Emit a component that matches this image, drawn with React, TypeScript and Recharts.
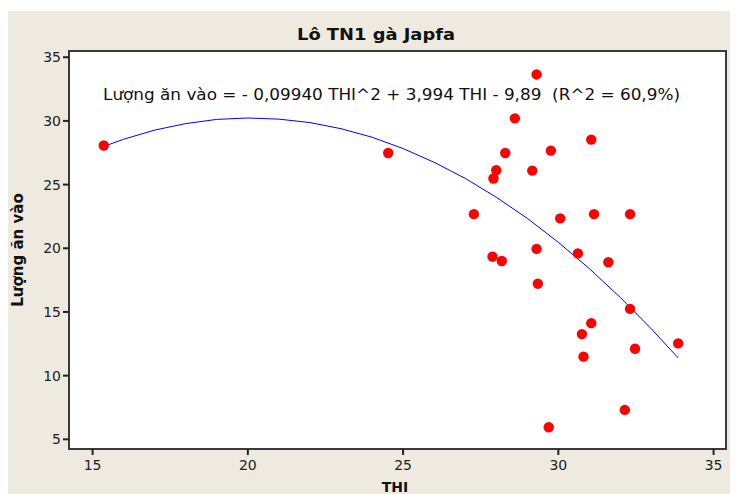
import { CartesianGrid, ReferenceArea, Scatter, ScatterChart, XAxis, YAxis } from "recharts";

// observed points (THI, feed intake)
const thi = [
  15.36, 24.52, 27.28, 27.88, 27.91, 28.0, 28.18, 28.29, 28.6, 29.16, 29.3, 29.3, 29.34, 29.69,
  29.76, 30.06, 30.63, 30.76, 30.81, 31.06, 31.06, 31.15, 31.61, 32.14, 32.31, 32.31, 32.47, 33.86,
];
const intake = [
  28.07, 27.48, 22.68, 19.34, 25.48, 26.13, 19.0, 27.48, 30.2, 26.1, 33.65, 19.95, 17.22, 5.95,
  27.67, 22.35, 19.6, 13.26, 11.49, 14.12, 28.53, 22.68, 18.9, 7.31, 22.68, 15.24, 12.11, 12.53,
];

// fitted curve
const fitThi = [15.36, 16, 17, 18, 19, 20, 21, 22, 23, 24, 25, 26, 27, 28, 29, 30, 31, 32, 33, 33.86];
const fitIntake = [
  28.0, 28.56, 29.28, 29.79, 30.12, 30.23, 30.14, 29.87, 29.39, 28.72, 27.83, 26.75, 25.49, 24.01,
  22.35, 20.47, 18.4, 16.13, 13.66, 11.39,
];

const xTicks = [15, 20, 25, 30, 35];
const yTicks = [5, 10, 15, 20, 25, 30, 35];

const X_DOMAIN: [number, number] = [14.24, 35.4];
const Y_DOMAIN: [number, number] = [4.24, 35.49];

const points = thi.map((x, i) => ({ x, y: intake[i] }));
const fit = fitThi.map((x, i) => ({ x, y: fitIntake[i] }));

const BG = "#eeeae0";
const INK = "#222";
const FONT = "Tahoma, 'DejaVu Sans', sans-serif";

const Dot = (p: any) => <circle cx={p.cx} cy={p.cy} r={5.2} fill="#ff0000" />;
const NoDot = () => <g />;

export default function App() {
  return (
    <div style={{ position: "relative", width: 731, height: 483, marginLeft: -1, marginTop: 3, background: BG, fontFamily: FONT }}>
      <ScatterChart width={731} height={483} margin={{ top: 40, right: 12, bottom: 14, left: 12 }}>
        <CartesianGrid fill="#ffffff" horizontal={false} vertical={false} />
        <XAxis
          type="number"
          dataKey="x"
          domain={X_DOMAIN}
          ticks={xTicks}
          height={31}
          axisLine={false}
          tickLine={{ stroke: INK, strokeWidth: 2 }}
          tickSize={6}
          tickMargin={5}
          tick={{ fill: INK, fontSize: 14, fontFamily: FONT }}
          allowDataOverflow
        />
        <YAxis
          type="number"
          dataKey="y"
          domain={Y_DOMAIN}
          ticks={yTicks}
          width={50}
          axisLine={false}
          tickLine={{ stroke: INK, strokeWidth: 2 }}
          tickSize={6}
          tick={{ fill: INK, fontSize: 14, fontFamily: FONT }}
          allowDataOverflow
        />
        <ReferenceArea
          x1={X_DOMAIN[0]}
          x2={X_DOMAIN[1]}
          y1={Y_DOMAIN[0]}
          y2={Y_DOMAIN[1]}
          fill="none"
          fillOpacity={0}
          stroke="#3a3a3a"
          strokeWidth={2}
        />
        <Scatter data={fit} line={{ stroke: "#0000ff", strokeWidth: 1 }} shape={NoDot} isAnimationActive={false} />
        <Scatter data={points} shape={Dot} isAnimationActive={false} />
      </ScatterChart>
      <svg width={731} height={483} style={{ position: "absolute", left: 0, top: 0, pointerEvents: "none" }}>
        <text
          x={290}
          y={29}
          textLength={158}
          lengthAdjust="spacingAndGlyphs"
          fontSize={16}
          fontWeight="bold"
          fill="#111"
          fontFamily={FONT}
        >
          Lô TN1 gà Japfa
        </text>
        <text
          x={96}
          y={89}
          textLength={577}
          lengthAdjust="spacingAndGlyphs"
          fontSize={16}
          fill="#111"
          fontFamily={FONT}
          style={{ whiteSpace: "pre" }}
        >
          {"Lượng ăn vào = - 0,09940 THI^2 + 3,994 THI - 9,89\u00a0\u00a0(R^2 = 60,9%)"}
        </text>
        <text
          x={16}
          y={239}
          transform="rotate(-90 16 239)"
          textAnchor="middle"
          fontSize={15}
          fontWeight="bold"
          fill="#111"
          fontFamily={FONT}
        >
          Lượng ăn vào
        </text>
        <text x={388} y={481} textAnchor="middle" fontSize={14} fontWeight="bold" fill="#111" fontFamily={FONT}>
          THI
        </text>
      </svg>
    </div>
  );
}
